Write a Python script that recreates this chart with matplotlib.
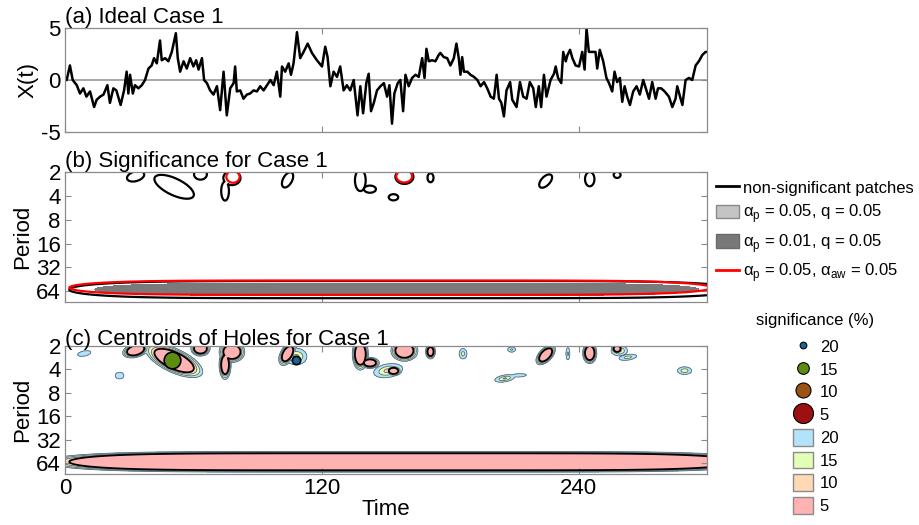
import numpy as np
import matplotlib
matplotlib.use("Agg")
import matplotlib.pyplot as plt
from matplotlib.lines import Line2D
from matplotlib.patches import Patch
from matplotlib.ticker import NullLocator

plt.rcParams['font.family'] = ['Liberation Sans', 'DejaVu Sans']
plt.rcParams['mathtext.fontset'] = 'custom'
plt.rcParams['mathtext.rm'] = 'Liberation Sans'
plt.rcParams['axes.unicode_minus'] = False

# ---------------- data: panel (a) time series ----------------
TIME = [0, 0.8, 2.3, 3.6, 5.5, 7, 8.6, 10, 11.7, 13.6, 14.8, 16.4, 18, 19.8, 21, 22.6, 24, 26,
        27.6, 28.8, 29.6, 30.4, 31.7, 32.7, 34.3, 35.9, 37.4, 39, 40.5, 41.6, 42.9, 44.4, 45.2,
        46.8, 48.3, 49.9, 51.8, 52.7, 53.8, 55.4, 56.9, 58.5, 60, 61.3, 62.4, 64, 65, 66.3, 67.8,
        69.4, 71, 72.5, 74.1, 75.6, 77.2, 78.8, 79.5, 80.3, 81.9, 83.4, 85, 86.5, 88.1, 89.7,
        91.2, 92.8, 94.4, 96, 97.5, 99, 100.6, 101.4, 102.9, 104.5, 105.6, 106.8, 108.4, 109.9,
        111.5, 113.4, 115.4, 117.7, 120.1, 121.6, 122.7, 124, 125.5, 127.1, 128.6, 130.2, 131.7,
        133.3, 134.9, 136.7, 138, 139.3, 140.8, 141.9, 143, 144.3, 145.8, 147.4, 149, 150.5,
        151.6, 152.8, 153.9, 155.5, 156.7, 158, 159.1, 160.6, 162.2, 163.8, 165.3, 166.9, 168,
        168.9, 170, 171.5, 173.1, 174.6, 175.4, 177, 178.6, 180.1, 181.7, 182.9, 184, 184.8,
        185.6, 186.4, 188, 189.5, 191.1, 192.7, 194.2, 195.8, 197.3, 198.9, 200.4, 201.7, 202.8,
        203.9, 205.1, 206.3, 208, 209, 211, 212.6, 214.1, 215.7, 217.2, 218.8, 220, 221.4, 222.5,
        223.8, 225, 226.9, 228.5, 229.3, 230.4, 231.9, 232.8, 234, 234.8, 236, 237.1, 238.6,
        240.2, 241.7, 242.8, 243.7, 244.8, 246.3, 247.9, 248.7, 249.9, 251.5, 253, 254.2, 255.7,
        256.8, 258, 259.3, 260.4, 261.5, 262.7, 264, 265.5, 267.1, 268.6, 270.2, 271.7, 272.9,
        274.4, 276, 277.1, 278.6, 280.2, 282.2, 283.8, 285.3, 286.1, 287.4, 288.5, 290, 291.6,
        293.1, 294.7, 296.2, 297.8, 299.3, 300]
XT = [0, 0.0, 1.4, 0, -0.5, -1.3, -0.8, -1.6, -1.1, -2.6, -1.9, -1.6, -1.4, -0.5, -2.2, -0.8, -1.0,
      -2.4, -1.0, 0.8, -1.3, 0.5, -1.3, -0.5, -0.8, -0.5, 0, 1.1, 1.4, 2.1, 1.6, 3.8, 1.9, 2.1,
      1.8, 2.7, 4.5, 2.1, 0.8, 1.8, 1.1, 2.1, 1.3, 1.9, 1.0, 2.1, 0, -0.3, -1.0, -1.4, -0.6,
      -2.9, 0.8, -3.4, -0.8, -0.3, 1.3, -1.1, -1.0, -1.8, -1.4, -1.3, -1.0, -1.1, -0.6, -1.0,
      -0.5, 0, -0.5, 0.8, -1.6, 1.3, 0.8, 1.6, 0.5, 1.6, 4.6, 2.1, 2.7, 3.5, 2.6, 1.9, 1.3, 3.2,
      2.2, -0.6, 0.8, 0.3, 1.3, -1.0, -0.5, -1.0, 0, -3.4, -0.6, -3.2, -0.3, 0.6, -3.0, -2.2,
      -1.0, -0.6, -0.3, -1.6, -0.5, -4.2, -1.3, -0.3, 0, -3.0, 0.5, -0.6, 0.2, 0.5, 0.3, 2.1,
      0.2, 3.0, 1.8, 1.9, 1.8, 2.4, 2.6, 2.2, 2.1, 1.4, 2.1, 3.5, 2.1, 0.5, 2.2, 0.8, 0.8, 0.5,
      0.3, 0, -0.6, -0.2, -0.8, -1.6, -1.8, 0.5, -1.8, -2.2, -3.5, -1.0, -0.2, -1.9, -2.6, -0.2,
      -1.6, -1.8, -0.2, -0.8, -2.6, -0.6, -2.6, 0.5, -1.6, 0, 0.6, 1.3, 0.2, -0.3, 2.7, 1.8,
      2.4, 2.9, 2.1, 1.4, 1.3, 2.7, 1.0, 5.0, 2.7, 2.7, 2.7, 1.1, 2.9, 1.8, 0.2, -0.3, -1.1,
      0.8, -0.2, 0.2, -2.1, -0.6, -1.6, -2.4, -1.1, -0.6, -1.4, 0, -1.0, -1.8, -0.2, -1.8, -0.8,
      -0.8, -1.1, -1.6, -2.6, -1.8, -0.6, -1.6, -2.4, 0, 0.2, 0, 1.4, 1.8, 2.4, 2.7, 2.7]

# ---------------- data: holes / patches (time, log2 period, half extents) ----------------
# level 4.5 -> listed extent is the non-significant (5 %) boundary; level 0 -> outer 20 % boundary
HOLE_T     = [33, 51, 63.3, 78, 74.8, 104, 108, 138, 142.5, 153.5, 151, 158.6, 170.8, 224.6,
              245.2, 258, 259, 263, 9, 25.5, 39.5, 186, 208.7, 205.5, 212, 235, 289.5, 158]
HOLE_LOGP  = [1.18, 1.62, 1.1, 1.25, 1.8, 1.33, 1.45, 1.35, 1.72, 2.06, 2.05, 1.2, 1.24, 1.38,
              1.3, 1.12, 1.2, 1.48, 1.32, 2.26, 1.25, 1.33, 1.15, 2.38, 2.25, 1.33, 2.05, 5.93]
HOLE_DT    = [3.8, 7, 3, 4, 1.8, 2.3, 5, 2.5, 2.8, 2.2, 6.5, 4.2, 1.4, 2.5,
              2.2, 1.6, 3.8, 3.8, 2.8, 2.0, 3.5, 1.8, 1.8, 4.2, 3.5, 0.9, 3.3, 156]
HOLE_DLOGP = [0.22, 0.5, 0.22, 0.3, 0.4, 0.32, 0.35, 0.45, 0.15, 0.13, 0.3, 0.3, 0.19, 0.28,
              0.3, 0.13, 0.22, 0.13, 0.12, 0.14, 0.08, 0.22, 0.11, 0.16, 0.07, 0.26, 0.16, 0.36]
HOLE_TILT  = [-6, 12, 0, 0, 0, -4, 0, 0, 0, 0, -6, 0, 0, -6,
              0, 0, 0, -12, -10, 0, -10, 0, 0, -12, -10, 0, 0, 0]
HOLE_SHAPE = [2] * 27 + [6]
HOLE_LEVEL = [4.5] * 6 + [0] + [4.5] * 3 + [0] + [4.5] * 5 + [0] * 11 + [4.5]
HOLE_GRAD  = [9, 10, 9, 9, 8, 8, 4, 9, 8, 7, 4.2, 9, 7, 9,
              9, 7, 4, 2.6, 1.4, 1.4, 1.5, 2.6, 2.2, 3.6, 1.4, 2.3, 3, 20]

# red (alpha_aw) significant patches
RED_T = [78.5, 158.5, 152]
RED_LOGP = [1.2, 1.18, 5.85]
RED_DT = [3.1, 3.7, 150]
RED_DLOGP = [0.25, 0.26, 0.3]
RED_SHAPE = [2, 2, 6]

# dark gray (alpha_p = 0.01) patch
GRAY_T = [155]
GRAY_LOGP = [5.92]
GRAY_DT = [141]
GRAY_DLOGP = [0.25]
GRAY_SHAPE = [6]

# centroids
CENT_T = [50, 108]
CENT_LOGP = [1.61, 1.61]
CENT_SIG = [15, 20]

SIG_LEVELS = [20, 15, 10, 5]
SIG_FILL = ['#b3e2fb', '#e2ffb5', '#ffd9b5', '#ffb2b2']
SIG_DOT = ['#16679a', '#5e8c0e', '#9b5314', '#9b1111']
SIG_DOT_PT = [4.8, 8.4, 10.8, 14.4]
CENT_DOT_PT = {15: 12, 20: 6}

PERIOD_TICKS = [2, 4, 8, 16, 32, 64]
TIME_TICKS = [0, 120, 240]

# ---------------- helper: field from patch extents ----------------
tg = np.linspace(-5, 305, 800)
yg = np.linspace(0.7, 6.8, 480)
TT, YY = np.meshgrid(tg, yg)
PP = 2.0 ** YY


def field(tc, yc, a, b, tilt, p, lev, grad):
    F = np.full(TT.shape, -50.0)
    for i in range(len(tc)):
        dy = (YY - yc[i]) / b[i]
        dt = (TT - tc[i] - tilt[i] * (YY - yc[i])) / a[i]
        r = np.sqrt(np.abs(dt) ** p[i] + dy ** 2)
        F = np.maximum(F, lev[i] + grad[i] * (1 - r))
    return F


F_hole = field(HOLE_T, HOLE_LOGP, HOLE_DT, HOLE_DLOGP, HOLE_TILT, HOLE_SHAPE, HOLE_LEVEL, HOLE_GRAD)
nr = len(RED_T)
F_red = field(RED_T, RED_LOGP, RED_DT, RED_DLOGP, [0] * nr, RED_SHAPE, [0] * nr, [1] * nr)
F_gray = field(GRAY_T, GRAY_LOGP, GRAY_DT, GRAY_DLOGP, [0], GRAY_SHAPE, [0], [1])
LEV = [0, 1.5, 3, 4.5]

# ---------------- figure ----------------
W, H = 919, 525
fig = plt.figure(figsize=(W / 100, H / 100), dpi=100)
L = 65 / W
AW = (707 - 65) / W
ax1 = fig.add_axes([L, 1 - 132 / H, AW, 104 / H])
ax2 = fig.add_axes([L, 1 - 302 / H, AW, 130 / H])
ax3 = fig.add_axes([L, 1 - 474 / H, AW, 128 / H])

FS = 16
GRAYC = '#8a8a8a'
YMAX = 2 ** 6.45


def style(ax):
    for sp in ax.spines.values():
        sp.set_color(GRAYC)
        sp.set_linewidth(0.9)
    ax.tick_params(direction='in', top=True, right=True, length=4, width=0.8,
                   color=GRAYC, labelsize=FS, pad=3)
    ax.set_xlim(0, 300)
    ax.set_xticks(TIME_TICKS)


# (a)
ax1.axhline(0, color='#a0a0a0', lw=1.3, zorder=1)
ax1.plot(TIME, XT, color='black', lw=1.8, zorder=2)
ax1.set_ylim(-5, 5)
ax1.set_yticks([-5, 0, 5])
style(ax1)
ax1.set_xticklabels([])
ax1.set_ylabel('X(t)', fontsize=FS, labelpad=2)
ax1.set_title('(a) Ideal Case 1', loc='left', fontsize=FS, pad=1)

# (b)
ax2.contourf(TT, PP, F_gray, levels=[0, 10], colors=['#7a7a7a'])
ax2.contour(TT, PP, F_hole, levels=[LEV[3]], colors='black', linewidths=1.6)
ax2.contour(TT, PP, F_red, levels=[0], colors='#ff0000', linewidths=1.6)
ax2.set_yscale('log', base=2)
ax2.set_ylim(YMAX, 2)
ax2.set_yticks(PERIOD_TICKS)
ax2.set_yticklabels([str(v) for v in PERIOD_TICKS])
ax2.yaxis.set_minor_locator(NullLocator())
style(ax2)
ax2.set_xticklabels([])
ax2.set_ylabel('Period', fontsize=FS, labelpad=2)
ax2.set_title('(b) Significance for Case 1', loc='left', fontsize=FS, pad=1)

# (c)
ax3.contourf(TT, PP, F_hole, levels=LEV + [100], colors=SIG_FILL)
ax3.contour(TT, PP, F_hole, levels=LEV[:3], colors='#56687a', linewidths=0.6)
ax3.contour(TT, PP, F_hole, levels=[LEV[3]], colors='black', linewidths=1.3)
for t, lp, s in zip(CENT_T, CENT_LOGP, CENT_SIG):
    k = SIG_LEVELS.index(s)
    ax3.plot([t], [2 ** lp], ls='none', marker='o', ms=CENT_DOT_PT[s],
             mfc=SIG_DOT[k], mec='black', mew=1.2, zorder=5)
ax3.set_yscale('log', base=2)
ax3.set_ylim(YMAX, 2)
ax3.set_yticks(PERIOD_TICKS)
ax3.set_yticklabels([str(v) for v in PERIOD_TICKS])
ax3.yaxis.set_minor_locator(NullLocator())
style(ax3)
ax3.set_xticklabels([str(v) for v in TIME_TICKS])
ax3.set_xlabel('Time', fontsize=FS, labelpad=0)
ax3.set_ylabel('Period', fontsize=FS, labelpad=2)
ax3.set_title('(c) Centroids of Holes for Case 1', loc='left', fontsize=FS, pad=1)

# legend (b)
hb = [Line2D([], [], color='black', lw=2),
      Patch(facecolor='#c4c4c4', edgecolor='#8a8a8a'),
      Patch(facecolor='#787878', edgecolor='#6a6a6a'),
      Line2D([], [], color='#ff0000', lw=2)]
lb = ['non-significant patches',
      r'α$_\mathregular{p}$ = 0.05, q = 0.05',
      r'α$_\mathregular{p}$ = 0.01, q = 0.05',
      r'α$_\mathregular{p}$ = 0.05, α$_\mathregular{aw}$ = 0.05']
fig.legend(hb, lb, loc='upper left', bbox_to_anchor=(716 / W, 1 - 180 / H), frameon=False,
           fontsize=12, handlelength=1.4, handleheight=0.9, handletextpad=0.2,
           labelspacing=0.4, borderpad=0, borderaxespad=0)

# legend (c)
fig.text(815 / W, 1 - 321 / H, 'significance (%)', fontsize=12, ha='center', va='center')
hc = []
for k in range(4):
    hc.append(Line2D([], [], ls='none', marker='o', ms=SIG_DOT_PT[k], mfc=SIG_DOT[k],
                     mec='black', mew=0.8))
for k in range(4):
    hc.append(Patch(facecolor=SIG_FILL[k], edgecolor='#8a8a8a'))
lc = [str(v) for v in SIG_LEVELS] * 2
fig.legend(hc, lc, loc='upper left', bbox_to_anchor=(793 / W, 1 - 338 / H), frameon=False,
           fontsize=12, handlelength=1.2, handleheight=1.15, handletextpad=0.4,
           labelspacing=0.35, borderpad=0, borderaxespad=0)

fig.savefig('out.png', dpi=100)
